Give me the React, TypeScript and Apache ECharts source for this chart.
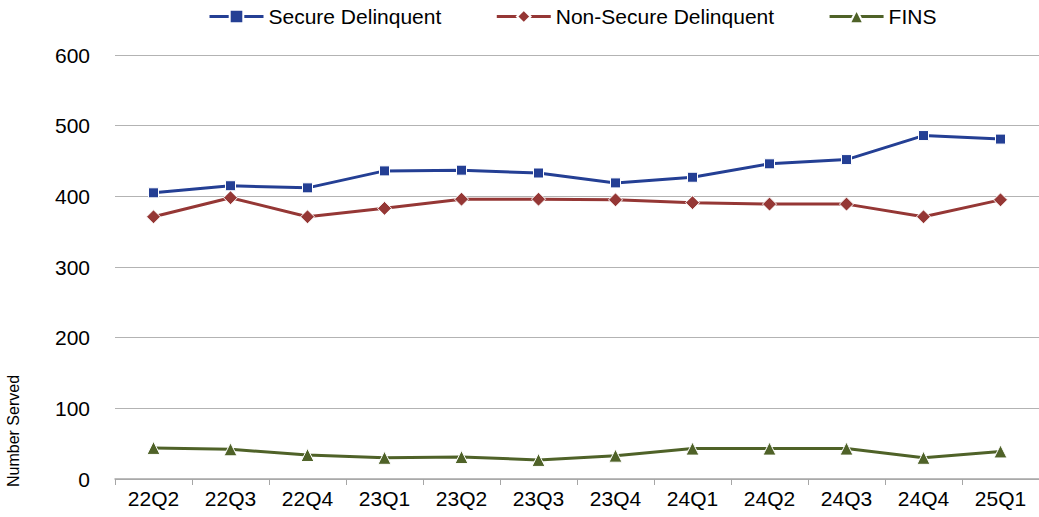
import React, { useEffect, useRef } from "react";
import * as echarts from "echarts";

const categories = ["22Q2", "22Q3", "22Q4", "23Q1", "23Q2", "23Q3", "23Q4", "24Q1", "24Q2", "24Q3", "24Q4", "25Q1"];
const secureDelinquent = [405, 415, 412, 436, 437, 433, 419, 427, 446, 452, 486, 481];
const nonSecureDelinquent = [371, 398, 371, 383, 396, 396, 395, 391, 389, 389, 371, 395];
const fins = [44, 42, 34, 30, 31, 27, 33, 43, 43, 43, 30, 39];
const yTicks = [0, 100, 200, 300, 400, 500, 600];

export default function App() {
  const ref = useRef<HTMLDivElement>(null);
  useEffect(() => {
    if (!ref.current) return;
    const chart = echarts.init(ref.current, undefined, { renderer: "svg" });
    const font = "Arial, 'Liberation Sans', sans-serif";
    const mkSeries = (name: string, data: number[], color: string, symbol: string, size: number) => ({
      name,
      type: "line",
      data,
      symbol,
      symbolSize: size,
      showAllSymbol: true,
      lineStyle: { color, width: 3 },
      itemStyle: { color, borderColor: "#ffffff", borderWidth: 1 },
    });
    chart.setOption({
      animation: false,
      backgroundColor: "#ffffff",
      textStyle: { fontFamily: font },
      legend: {
        top: 6,
        left: 208,
        padding: 0,
        itemWidth: 54,
        itemHeight: 17,
        itemGap: 54,
        lineStyle: { width: 3 },
        textStyle: { fontSize: 21, color: "#000", fontFamily: font },
        data: ["Secure Delinquent", "Non-Secure Delinquent", "FINS"],
      },
      grid: { left: 115, right: -8, top: 55, bottom: 38, containLabel: false },
      xAxis: {
        type: "category",
        data: categories,
        boundaryGap: true,
        axisLine: { show: true, lineStyle: { color: "#a6a6a6", width: 1.5 } },
        axisTick: { show: true, length: 6, lineStyle: { color: "#a6a6a6" } },
        axisLabel: { fontSize: 21, color: "#000", margin: 9, fontFamily: font },
      },
      yAxis: {
        type: "value",
        min: yTicks[0],
        max: yTicks[yTicks.length - 1],
        interval: 100,
        axisLine: { show: false },
        axisTick: { show: false },
        axisLabel: { fontSize: 21, color: "#000", margin: 25, fontFamily: font },
        splitLine: { show: true, lineStyle: { color: "#b3b3b3", width: 1.2 } },
      },
      graphic: [
        {
          type: "text",
          x: 13,
          y: 431,
          rotation: Math.PI / 2,
          style: {
            text: "Number Served",
            fontSize: 16,
            fill: "#000",
            fontFamily: font,
            align: "center",
            verticalAlign: "middle",
          },
        },
      ],
      series: [
        mkSeries("Secure Delinquent", secureDelinquent, "#243f94", "rect", 10),
        mkSeries("Non-Secure Delinquent", nonSecureDelinquent, "#953735", "diamond", 14),
        mkSeries("FINS", fins, "#4f6228", "triangle", 13),
      ],
    });
    return () => chart.dispose();
  }, []);
  return <div ref={ref} style={{ position: "fixed", left: 0, top: 0, width: 1039, height: 517 }} />;
}
